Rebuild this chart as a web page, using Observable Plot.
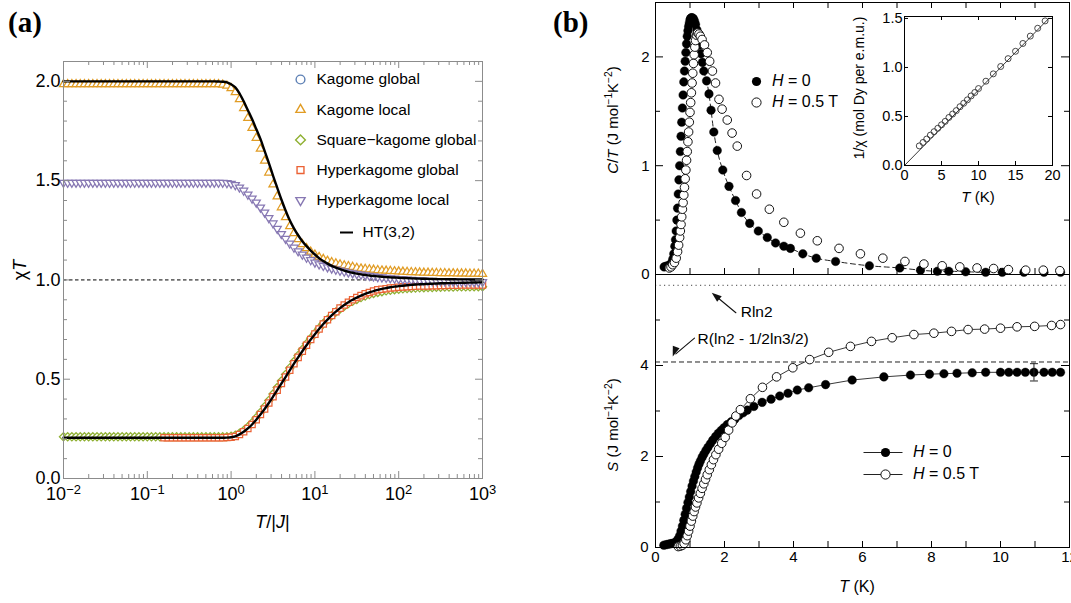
<!DOCTYPE html>
<html><head><meta charset="utf-8">
<script src="https://cdn.jsdelivr.net/npm/d3@7"></script>
<script src="https://cdn.jsdelivr.net/npm/@observablehq/plot@0.6"></script>
<style>
body{margin:0;background:#fff;}
#root{position:relative;width:1071px;height:603px;overflow:hidden;background:#fff;}
.lbl{position:absolute;white-space:nowrap;color:#000;line-height:1;}
.lbl sup{font-size:0.68em;vertical-align:0.5em;line-height:0;}
.box{position:absolute;}
</style></head><body><div id="root"></div>
<script>
// ---------------- Panel (a) data: chi*T vs T/|J| (log grid, 0.05 decade steps from 1e-2 to 1e3)
const logT = d3.range(101).map(i => -2 + i * 0.05);
const htUpper = [
2.0,2.0,2.0,2.0,2.0,2.0,2.0,2.0,2.0,2.0,
2.0,2.0,2.0,2.0,2.0,2.0,2.0,2.0,2.0,2.0,
2.0,2.0,2.0,2.0,2.0,2.0,2.0,2.0,2.0,2.0,
2.0,2.0,2.0,2.0,2.0,2.0,2.0,1.999,1.998,1.995,
1.985,1.97,1.94,1.90,1.855,1.81,1.76,1.71,1.65,1.59,
1.525,1.465,1.405,1.35,1.30,1.26,1.225,1.195,1.17,1.148,
1.128,1.11,1.095,1.082,1.071,1.062,1.054,1.047,1.041,1.036,
1.032,1.028,1.025,1.022,1.02,1.018,1.016,1.014,1.013,1.012,
1.011,1.01,1.009,1.008,1.007,1.0065,1.006,1.0055,1.005,1.0045,
1.004,1.004,1.0035,1.0035,1.003,1.003,1.003,1.0025,1.0025,1.002,
1.002];
const htLower = [
0.205,0.205,0.205,0.205,0.205,0.205,0.205,0.205,0.205,0.205,
0.205,0.205,0.205,0.205,0.205,0.205,0.205,0.205,0.205,0.205,
0.205,0.205,0.205,0.205,0.205,0.205,0.205,0.205,0.205,0.205,
0.205,0.205,0.205,0.205,0.205,0.205,0.205,0.205,0.205,0.206,
0.208,0.212,0.222,0.235,0.252,0.272,0.296,0.322,0.35,0.38,
0.412,0.445,0.478,0.511,0.545,0.578,0.61,0.641,0.671,0.70,
0.727,0.753,0.778,0.80,0.821,0.84,0.858,0.874,0.888,0.90,
0.911,0.921,0.93,0.937,0.944,0.95,0.955,0.959,0.963,0.966,
0.969,0.971,0.973,0.975,0.977,0.978,0.979,0.98,0.981,0.982,
0.983,0.9835,0.984,0.9845,0.985,0.9855,0.986,0.9865,0.987,0.9875,
0.988];
const kagomeLocal = [
1.985,1.985,1.985,1.985,1.985,1.985,1.985,1.985,1.985,1.985,
1.985,1.985,1.985,1.985,1.985,1.985,1.985,1.985,1.985,1.985,
1.985,1.985,1.985,1.985,1.985,1.985,1.985,1.985,1.985,1.985,
1.985,1.985,1.985,1.985,1.985,1.985,1.985,1.985,1.983,1.978,
1.965,1.945,1.91,1.865,1.815,1.765,1.715,1.66,1.60,1.54,
1.48,1.42,1.365,1.315,1.27,1.235,1.205,1.18,1.16,1.142,
1.127,1.115,1.105,1.096,1.089,1.083,1.078,1.073,1.069,1.065,
1.06,1.057,1.055,1.053,1.051,1.049,1.047,1.046,1.045,1.043,
1.042,1.041,1.04,1.039,1.038,1.037,1.036,1.036,1.035,1.035,
1.034,1.034,1.033,1.033,1.032,1.032,1.032,1.031,1.031,1.031,
1.03];
const hyperkagomeLocal = [
1.49,1.49,1.49,1.49,1.49,1.49,1.49,1.49,1.49,1.49,
1.49,1.49,1.49,1.49,1.49,1.49,1.49,1.49,1.49,1.49,
1.49,1.49,1.49,1.49,1.49,1.49,1.49,1.49,1.49,1.49,
1.49,1.49,1.49,1.49,1.49,1.49,1.49,1.49,1.49,1.488,
1.485,1.478,1.466,1.45,1.43,1.41,1.39,1.365,1.34,1.312,
1.285,1.258,1.232,1.207,1.184,1.163,1.145,1.128,1.113,1.10,
1.088,1.079,1.071,1.064,1.058,1.052,1.047,1.042,1.038,1.034,
1.03,1.027,1.024,1.021,1.018,1.015,1.013,1.011,1.009,1.007,
1.005,1.0035,1.002,1.0005,0.999,0.998,0.997,0.996,0.995,0.9945,
0.994,0.9935,0.993,0.9925,0.992,0.9915,0.991,0.9905,0.99,0.99,
0.99];
const squareKagomeGlobal = [
0.21,0.21,0.21,0.21,0.21,0.21,0.21,0.21,0.21,0.21,
0.21,0.21,0.21,0.21,0.21,0.21,0.21,0.21,0.21,0.21,
0.21,0.21,0.21,0.21,0.21,0.21,0.21,0.21,0.21,0.21,
0.21,0.21,0.21,0.21,0.21,0.21,0.21,0.21,0.21,0.21,
0.213,0.218,0.228,0.242,0.26,0.281,0.306,0.333,0.362,0.393,
0.425,0.458,0.491,0.524,0.557,0.589,0.62,0.65,0.679,0.706,
0.732,0.757,0.78,0.801,0.82,0.838,0.854,0.868,0.881,0.892,
0.902,0.911,0.919,0.926,0.932,0.937,0.941,0.945,0.948,0.951,
0.953,0.955,0.957,0.958,0.959,0.96,0.961,0.962,0.962,0.963,
0.963,0.964,0.964,0.964,0.965,0.965,0.965,0.965,0.966,0.966,
0.966];
const hyperkagomeGlobal = [
null,null,null,null,null,null,null,null,null,null,
null,null,null,null,null,null,null,null,null,null,
null,null,null,null,0.205,0.205,0.205,0.205,0.205,0.205,
0.205,0.205,0.205,0.205,0.205,0.205,0.205,0.205,0.205,0.206,
0.208,0.212,0.222,0.235,0.252,0.272,0.296,0.322,0.35,0.38,
0.412,0.445,0.478,0.511,0.545,0.578,0.61,0.641,0.671,0.70,
0.727,0.753,0.778,0.80,0.821,0.84,0.858,0.874,0.888,0.90,
0.911,0.921,0.93,0.937,0.944,0.95,0.953,0.956,0.959,0.961,
0.963,0.965,0.966,0.967,0.968,0.969,0.97,0.97,0.971,0.971,
0.972,0.972,0.973,0.973,0.973,0.974,0.974,0.974,0.975,0.975,
0.975];
// Kagome global coincides with (and is hidden beneath) the square-kagome points
const kagomeGlobal = squareKagomeGlobal;

const aSeries = [
  {name: "Kagome global", color: "#5E81B5", symbol: "circle", rotate: 0},
  {name: "Kagome local", color: "#E19C24", symbol: "triangle2", rotate: 0},
  {name: "Square\u2212kagome global", color: "#8FB032", symbol: "diamond2", rotate: 0},
  {name: "Hyperkagome global", color: "#EB6235", symbol: "square2", rotate: 0},
  {name: "Hyperkagome local", color: "#8778B3", symbol: "triangle2", rotate: 180}
];
const aLineLabel = "HT(3,2)";
const aXTicks = [0.01, 0.1, 1, 10, 100, 1000];
const aYTicks = [0, 0.5, 1.0, 1.5, 2.0];

// ---------------- Panel (b) data
// C/T, H = 0 (filled)
const ctT0 = [0.25,0.30,0.35,0.40,0.45,0.50,0.53,0.56,0.58,
0.60,0.62,0.64,0.66,0.68,0.70,0.72,0.74,0.76,0.78,0.80,0.82,0.84,0.86,0.88,0.90,0.92,0.94,0.96,0.98,1.00,1.02,1.04,1.06,1.08,1.10,
1.13,1.16,1.20,1.24,1.28,1.32,1.36,
1.40,1.48,1.55,1.61,1.69,1.79,1.95,2.13,2.32,2.49,
2.73,2.98,3.24,3.48,3.72,3.91,4.27,4.66,5.22,6.20,
7.08,7.68,8.17,8.50,8.99,9.57,10.05,10.68,11.26,11.74];
const ctV0 = [0.07,0.075,0.08,0.085,0.10,0.14,0.19,0.26,0.32,
0.40,0.50,0.61,0.74,0.87,1.00,1.13,1.27,1.40,1.53,1.65,1.77,1.87,1.96,2.04,2.12,2.19,2.24,2.28,2.31,2.34,2.355,2.36,2.36,2.355,2.35,
2.33,2.30,2.25,2.19,2.11,2.03,1.95,
1.87,1.78,1.66,1.51,1.31,1.14,0.96,0.81,0.68,0.57,
0.47,0.40,0.34,0.29,0.26,0.24,0.19,0.15,0.12,0.08,
0.06,0.04,0.03,0.03,0.025,0.02,0.02,0.02,0.02,0.02];
// C/T, H = 0.5 T (open)
const ctT5 = [0.40,0.45,0.50,0.55,0.60,0.64,0.67,0.70,
0.72,0.74,0.76,0.78,0.80,0.82,0.84,0.86,0.88,0.90,0.92,0.94,0.96,0.98,1.00,1.02,1.04,1.06,1.08,1.10,1.12,1.14,1.16,
1.19,1.22,1.26,1.30,
1.35,1.42,1.50,1.57,1.65,1.74,1.84,1.93,2.08,2.22,
2.37,2.64,2.93,3.30,3.72,4.20,4.69,5.32,5.94,6.59,
7.23,7.78,8.31,8.82,9.32,9.80,10.23,10.73,11.24,11.72];
const ctV5 = [0.06,0.07,0.09,0.11,0.15,0.21,0.27,0.34,
0.40,0.46,0.53,0.60,0.66,0.73,0.80,0.88,0.96,1.05,1.13,1.22,1.31,1.40,1.49,1.58,1.67,1.76,1.85,1.94,2.02,2.09,2.15,
2.20,2.22,2.21,2.19,
2.16,2.11,2.04,1.96,1.87,1.76,1.61,1.52,1.42,1.30,
1.18,0.91,0.74,0.60,0.48,0.38,0.31,0.24,0.19,0.15,
0.12,0.096,0.08,0.07,0.06,0.055,0.045,0.04,0.04,0.035];
// S, H = 0 (filled)
const sT0 = [0.24,0.30,0.36,0.42,0.48,0.54,0.60,0.65,0.70,
0.74,0.78,0.82,0.86,0.90,0.94,0.98,1.02,1.06,1.10,1.14,1.18,1.22,1.26,1.30,
1.35,1.40,1.46,1.52,1.59,1.66,1.74,1.82,1.90,1.98,
2.08,2.19,2.30,2.42,2.54,2.66,2.85,3.09,3.35,3.60,
3.84,4.11,4.44,4.93,5.70,6.62,7.39,7.94,8.36,8.74,
9.18,9.57,10.0,10.24,10.48,10.72,10.97,11.26,11.50,11.74];
const sV0 = [0.05,0.06,0.07,0.08,0.09,0.10,0.13,0.18,0.26,
0.36,0.47,0.60,0.73,0.86,0.99,1.11,1.23,1.35,1.46,1.56,1.66,1.75,1.83,1.90,
1.98,2.05,2.13,2.20,2.28,2.36,2.44,2.51,2.57,2.63,
2.70,2.76,2.82,2.90,2.96,3.02,3.10,3.19,3.26,3.33,
3.39,3.46,3.51,3.58,3.68,3.75,3.79,3.81,3.82,3.83,
3.84,3.85,3.85,3.85,3.85,3.85,3.85,3.85,3.85,3.85];
// S, H = 0.5 T (open)
const sT5 = [0.66,0.72,0.78,0.83,0.88,0.92,0.96,1.00,1.04,1.08,
1.12,1.16,1.20,1.25,1.30,1.35,1.40,1.45,1.50,1.56,
1.62,1.68,1.75,1.83,1.92,2.02,2.12,2.22,2.33,2.46,
2.75,3.10,3.51,3.98,4.47,5.02,5.65,6.26,6.86,7.49,
8.07,8.58,9.06,9.54,10.0,10.48,10.99,11.48,11.74];
const sV5 = [0.02,0.03,0.05,0.09,0.17,0.26,0.36,0.47,0.58,0.69,
0.79,0.89,0.98,1.09,1.19,1.30,1.40,1.50,1.60,1.71,
1.82,1.93,2.04,2.16,2.29,2.42,2.58,2.74,2.89,3.03,
3.27,3.52,3.75,3.95,4.13,4.29,4.42,4.53,4.61,4.68,
4.71,4.75,4.79,4.80,4.82,4.85,4.86,4.88,4.90];
// Error bar on S(H=0)
const errT = [10.97], errS = [3.85], errD = [0.19];
// Reference entropy levels
const Rln2 = 5.763, Rpauling = 4.077;
// Annotations (text and arrows) in data units of the S panel
const annoText = [{text: "Rln2", T: 2.47, S: 5.17}, {text: "R(ln2 - 1/2ln3/2)", T: 1.22, S: 4.58}];
const annoArrows = [{T1: 2.33, S1: 5.16, T2: 1.63, S2: 5.6, bend: 0}, {T1: 1.13, S1: 4.6, T2: 0.5, S2: 4.2, bend: -30}];
// Inset: 1/chi vs T
const chiT = [2,2.5,3,3.5,4,4.5,5,5.5,6,6.5,7,7.5,8,8.5,9,9.5,10,11,12,13,14,15,16,17,18,19];
const chiV = [0.20,0.235,0.27,0.31,0.345,0.38,0.415,0.45,0.49,0.525,0.56,0.60,0.635,0.67,0.71,0.745,0.785,0.86,0.935,1.01,1.09,1.165,1.245,1.32,1.40,1.475];
const chiFitT = [0, 19.5], chiFitV = [0, 1.5];

// ---------------- helpers
const SANS = '"Liberation Sans", Arial, Helvetica, sans-serif';
const SERIF = '"Liberation Serif", "Times New Roman", serif';
const root = document.getElementById("root");
function mount(svg, left, top, w, h) {
  const d = document.createElement("div");
  d.className = "box";
  d.style.left = left + "px"; d.style.top = top + "px";
  d.style.width = w + "px"; d.style.height = h + "px";
  d.appendChild(svg); root.appendChild(d);
  return svg;
}
function label(html, x, y, o = {}) {
  const {size = 15, rot = 0, align = "center", family = SANS, weight = "normal"} = o;
  const d = document.createElement("div");
  d.className = "lbl";
  d.innerHTML = html;
  d.style.fontSize = size + "px"; d.style.fontFamily = family; d.style.fontWeight = weight;
  d.style.left = x + "px"; d.style.top = y + "px";
  const tx = align === "center" ? "-50%" : align === "start" ? "0" : "-100%";
  d.style.transform = `translate(${tx},-50%)` + (rot ? ` rotate(${rot}deg)` : "");
  root.appendChild(d);
}
const hline = (a, b) => ({draw(ctx) { ctx.moveTo(a, 0); ctx.lineTo(b, 0); }});
// filled arrowhead with its tip at the origin, pointing up before rotation
const headSym = {draw(ctx) { ctx.moveTo(0, 0); ctx.lineTo(-3.6, 10); ctx.lineTo(3.6, 10); ctx.closePath(); }};
const zip = (xs, ys) => xs.map((x, i) => ({T: x, v: ys[i]}));

// ---------------- Panel (a)
{
  const W = 545, H = 540, ML = 63, MR = 63, MT = 61, MB = 62;
  const IW = W - ML - MR, IH = H - MT - MB;
  const gray = "#8c8c8c";
  const rows = arr => arr.map((v, i) => ({T: Math.pow(10, logT[i]), v})).filter(d => d.v != null);
  const minorX = [];
  for (let k = -2; k <= 2; k++) for (let m = 2; m <= 9; m++) minorX.push(m * Math.pow(10, k));
  const minorY = d3.range(1, 21).map(i => i / 10).filter(v => Math.abs(v * 2 - Math.round(v * 2)) > 1e-6);
  const data = [kagomeGlobal, kagomeLocal, squareKagomeGlobal, hyperkagomeGlobal, hyperkagomeLocal];
  const radii = [2.0, 3.9, 3.7, 4.0, 3.9];
  const marks = [Plot.ruleY([1], {stroke: "black", strokeWidth: 1, strokeDasharray: "3.5,2.5"})];
  aSeries.forEach((s, i) => marks.push(Plot.dot(rows(data[i]), {x: "T", y: "v", symbol: s.symbol, rotate: s.rotate, r: radii[i], stroke: s.color, fill: "white", strokeWidth: 1.25})));
  marks.push(
    Plot.line(rows(htUpper), {x: "T", y: "v", stroke: "black", strokeWidth: 2.4, curve: "monotone-x"}),
    Plot.line(rows(htLower), {x: "T", y: "v", stroke: "black", strokeWidth: 2.4, curve: "monotone-x"}),
    Plot.tickX(aXTicks, {x: d => d, insetTop: IH - 7, stroke: gray}),
    Plot.tickX(aXTicks, {x: d => d, insetBottom: IH - 7, stroke: gray}),
    Plot.tickX(minorX, {x: d => d, insetTop: IH - 4, stroke: gray}),
    Plot.tickX(minorX, {x: d => d, insetBottom: IH - 4, stroke: gray}),
    Plot.tickY(aYTicks, {y: d => d, insetRight: IW - 7, stroke: gray}),
    Plot.tickY(aYTicks, {y: d => d, insetLeft: IW - 7, stroke: gray}),
    Plot.tickY(minorY, {y: d => d, insetRight: IW - 4, stroke: gray}),
    Plot.tickY(minorY, {y: d => d, insetLeft: IW - 4, stroke: gray}),
    Plot.axisX({ticks: aXTicks, tickSize: 0, tickPadding: 9, tickFormat: d => "10^" + Math.round(Math.log10(d)), label: null}),
    Plot.axisY({ticks: aYTicks, tickSize: 0, tickPadding: 3, tickFormat: d3.format(".1f"), label: null}),
    Plot.frame({stroke: gray})
  );
  // legend
  aSeries.forEach((s, i) => {
    marks.push(Plot.dot([s], {frameAnchor: "top-left", dx: 237, dy: 18 + 30.2 * i, symbol: s.symbol, rotate: s.rotate, r: 4.4, stroke: s.color, fill: "white", strokeWidth: 1.4}));
    marks.push(Plot.text([s], {frameAnchor: "top-left", dx: 253, dy: 18 + 30.2 * i, text: d => d.name, textAnchor: "start", lineAnchor: "middle", fontSize: 15.5}));
  });
  marks.push(Plot.dot([aLineLabel], {frameAnchor: "top-left", dx: 283, dy: 171, symbol: hline(-6.5, 6.5), stroke: "black", strokeWidth: 2, fill: "none"}));
  marks.push(Plot.text([aLineLabel], {frameAnchor: "top-left", dx: 299, dy: 171, text: d => d, textAnchor: "start", lineAnchor: "middle", fontSize: 15.5}));

  const svg = Plot.plot({
    width: W, height: H, marginLeft: ML, marginRight: MR, marginTop: MT, marginBottom: MB,
    x: {type: "log", domain: [0.01, 1000]},
    y: {domain: [0, 2.1]},
    style: {fontFamily: SANS, fontSize: "18px", color: "black", background: "transparent", overflow: "visible"},
    marks
  });
  svg.querySelectorAll('[aria-label="x-axis tick label"] text').forEach(t => {
    const m = t.textContent.match(/^10\^(-?\d+)$/);
    if (m) {
      t.textContent = "10";
      const ts = document.createElementNS("http://www.w3.org/2000/svg", "tspan");
      ts.setAttribute("dy", "-0.45em");
      ts.setAttribute("font-size", "0.72em");
      ts.textContent = m[1].replace("-", "\u2212");
      t.appendChild(ts);
    }
  });
  mount(svg, 0, 0, W, H);
  label("<i>T</i>/|<i>J</i>|", 272.5, 522, {size: 18});
  label("\u03c7<i>T</i>", 20, 270, {size: 18, rot: -90});
}

// ---------------- Panel (b)
const bLeft = 560, bW = 511, bML = 95, bMR = 2, bIW = bW - bML - bMR;
const xInts = d3.range(0, 13);
// top: C/T
{
  const H = 278, MT = 2, MB = 4, IH = H - MT - MB;
  const r0 = zip(ctT0, ctV0), r5 = zip(ctT5, ctV5);
  const svg = Plot.plot({
    width: bW, height: H, marginLeft: bML, marginRight: bMR, marginTop: MT, marginBottom: MB,
    x: {domain: [0, 12], axis: null}, y: {domain: [0, 2.5]},
    style: {fontFamily: SANS, fontSize: "15px", color: "black", background: "transparent", overflow: "visible"},
    marks: [
      Plot.line(r0.filter(d => d.T >= 1.36 && d.T <= 9.6), {x: "T", y: "v", stroke: "#222", strokeWidth: 1, strokeDasharray: "5,3.5", curve: "monotone-x"}),
      Plot.dot(r0, {x: "T", y: "v", r: 4.3, fill: "black", stroke: "black", strokeWidth: 0.4}),
      Plot.dot(r5, {x: "T", y: "v", r: 4.3, fill: "white", stroke: "#111", strokeWidth: 1}),
      Plot.tickX(xInts, {x: d => d, insetBottom: IH - 6, stroke: "black"}),
      Plot.tickX(xInts, {x: d => d, insetTop: IH - 6, stroke: "black"}),
      Plot.tickY([0, 1, 2], {y: d => d, insetRight: bIW - 8, stroke: "black"}),
      Plot.tickY([0, 1, 2], {y: d => d, insetLeft: bIW - 8, stroke: "black"}),
      Plot.tickY([0.5, 1.5], {y: d => d, insetRight: bIW - 5, stroke: "black"}),
      Plot.tickY([0.5, 1.5], {y: d => d, insetLeft: bIW - 5, stroke: "black"}),
      Plot.axisY({ticks: [0, 1, 2], tickSize: 0, tickPadding: 6, tickFormat: d3.format("d"), label: null}),
      Plot.frame({stroke: "black"}),
      Plot.dot([0], {frameAnchor: "top-left", dx: 101, dy: 79, r: 4.6, fill: "black"}),
      Plot.dot([0], {frameAnchor: "top-left", dx: 101, dy: 100, r: 4.6, fill: "white", stroke: "#111", strokeWidth: 1})
    ]
  });
  mount(svg, bLeft, 0, bW, H);
}
// bottom: S
{
  const top = 270, H = 333, MT = 4, MB = 56, IH = H - MT - MB;
  const kx = bIW / 12, ky = IH / 6;
  const r0 = zip(sT0, sV0), r5 = zip(sT5, sV5);
  const err = errT.map((t, i) => ({T: t, lo: errS[i] - errD[i], hi: errS[i] + errD[i]}));
  // direction of each arrow as it reaches its tip (screen space), for a filled head
  const heads = annoArrows.map(a => {
    const line = Math.atan2(-(a.S2 - a.S1) * ky, (a.T2 - a.T1) * kx) * 180 / Math.PI;
    return {T: a.T2, S: a.S2, rot: line + a.bend + 90};
  });
  const svg = Plot.plot({
    width: bW, height: H, marginLeft: bML, marginRight: bMR, marginTop: MT, marginBottom: MB,
    x: {domain: [0, 12]}, y: {domain: [0, 6]},
    style: {fontFamily: SANS, fontSize: "15px", color: "black", background: "transparent", overflow: "visible"},
    marks: [
      Plot.ruleY([Rln2], {stroke: "#444", strokeWidth: 1, strokeDasharray: "1.2,3.3"}),
      Plot.ruleY([Rpauling], {stroke: "#222", strokeWidth: 1, strokeDasharray: "5,3"}),
      Plot.line(r5, {x: "T", y: "v", stroke: "#222", strokeWidth: 0.9}),
      Plot.line(r0, {x: "T", y: "v", stroke: "#222", strokeWidth: 0.9}),
      Plot.dot(r0, {x: "T", y: "v", r: 4.3, fill: "black", stroke: "black", strokeWidth: 0.4}),
      Plot.dot(r5, {x: "T", y: "v", r: 4.3, fill: "white", stroke: "#111", strokeWidth: 1}),
      Plot.ruleX(err, {x: "T", y1: "lo", y2: "hi", stroke: "#222", strokeWidth: 1}),
      Plot.dot(err, {x: "T", y: "lo", symbol: hline(-4, 4), stroke: "#222", fill: "none", strokeWidth: 1}),
      Plot.dot(err, {x: "T", y: "hi", symbol: hline(-4, 4), stroke: "#222", fill: "none", strokeWidth: 1}),
      Plot.arrow(annoArrows, {x1: "T1", y1: "S1", x2: "T2", y2: "S2", bend: d => d.bend, stroke: "#111", strokeWidth: 1.1, headLength: 0, insetEnd: 4}),
      Plot.dot(heads, {x: "T", y: "S", symbol: headSym, rotate: "rot", fill: "#111", stroke: "none"}),
      Plot.text(annoText, {x: "T", y: "S", text: "text", textAnchor: "start", lineAnchor: "middle", fontSize: 15.5}),
      Plot.tickX(xInts, {x: d => d, insetTop: IH - 6, stroke: "black"}),
      Plot.tickY([0, 2, 4], {y: d => d, insetRight: bIW - 8, stroke: "black"}),
      Plot.tickY([0, 2, 4], {y: d => d, insetLeft: bIW - 8, stroke: "black"}),
      Plot.tickY([1, 3, 5], {y: d => d, insetRight: bIW - 5, stroke: "black"}),
      Plot.tickY([1, 3, 5], {y: d => d, insetLeft: bIW - 5, stroke: "black"}),
      Plot.axisY({ticks: [0, 2, 4], tickSize: 0, tickPadding: 7, tickFormat: d3.format("d"), label: null}),
      Plot.axisX({ticks: [0, 2, 4, 6, 8, 10, 12], tickSize: 0, tickPadding: 4, tickFormat: d3.format("d"), label: null}),
      Plot.frame({stroke: "black"}),
      Plot.dot([0], {frameAnchor: "top-left", dx: 230, dy: 178, symbol: hline(-22, 17), stroke: "#222", strokeWidth: 1, fill: "none"}),
      Plot.dot([0], {frameAnchor: "top-left", dx: 230, dy: 178, r: 4.6, fill: "black"}),
      Plot.dot([0], {frameAnchor: "top-left", dx: 230, dy: 200, symbol: hline(-22, 17), stroke: "#222", strokeWidth: 1, fill: "none"}),
      Plot.dot([0], {frameAnchor: "top-left", dx: 230, dy: 200, r: 4.6, fill: "white", stroke: "#111", strokeWidth: 1})
    ]
  });
  mount(svg, bLeft, top, bW, H);
}
// inset: 1/chi
{
  const W = 210, H = 200, ML = 54, MR = 8, MT = 6, MB = 45;
  const IW = W - ML - MR, IH = H - MT - MB;
  const pts = zip(chiT, chiV), fit = zip(chiFitT, chiFitV);
  const xt = [0, 5, 10, 15, 20], yt = [0, 0.5, 1.0, 1.5];
  const svg = Plot.plot({
    width: W, height: H, marginLeft: ML, marginRight: MR, marginTop: MT, marginBottom: MB,
    x: {domain: [0, 20]}, y: {domain: [0, 1.52]},
    style: {fontFamily: SANS, fontSize: "14.5px", color: "black", background: "transparent", overflow: "visible"},
    marks: [
      Plot.line(fit, {x: "T", y: "v", stroke: "#222", strokeWidth: 0.9}),
      Plot.dot(pts, {x: "T", y: "v", r: 3, stroke: "#333", strokeWidth: 0.9, fill: "none"}),
      Plot.tickX(xt, {x: d => d, insetTop: IH - 4, stroke: "black"}),
      Plot.tickX(xt, {x: d => d, insetBottom: IH - 4, stroke: "black"}),
      Plot.tickY(yt, {y: d => d, insetRight: IW - 4, stroke: "black"}),
      Plot.tickY(yt, {y: d => d, insetLeft: IW - 4, stroke: "black"}),
      Plot.axisY({ticks: yt, tickSize: 0, tickPadding: 2, tickFormat: d3.format(".1f"), label: null}),
      Plot.axisX({ticks: xt, tickSize: 0, tickPadding: 4, tickFormat: d3.format("d"), label: null}),
      Plot.frame({stroke: "black"})
    ]
  });
  mount(svg, 850, 10, W, H);
}
// panel (b) HTML labels
label("<i>C</i>/<i>T</i> (J mol<sup>\u22121</sup>K<sup>\u22122</sup>)", 612, 120, {size: 15, rot: -90});
label("<i>S</i> (J mol<sup>\u22121</sup>K<sup>\u22122</sup>)", 612, 425, {size: 15, rot: -90});
label("<i>T</i> (K)", 857, 587, {size: 16});
label("<i>T</i> (K)", 978, 196, {size: 15});
label("1/\u03c7 (mol Dy per e.m.u.)", 859, 88, {size: 14, rot: -90});
label("<i>H</i> = 0", 772, 81, {size: 16, align: "start"});
label("<i>H</i> = 0.5 T", 772, 102, {size: 16, align: "start"});
label("<i>H</i> = 0", 913, 452, {size: 16, align: "start"});
label("<i>H</i> = 0.5 T", 913, 474, {size: 16, align: "start"});
label("(a)", 8, 22, {size: 29, align: "start", family: SERIF, weight: "bold"});
label("(b)", 553, 22, {size: 29, align: "start", family: SERIF, weight: "bold"});
</script></body></html>
